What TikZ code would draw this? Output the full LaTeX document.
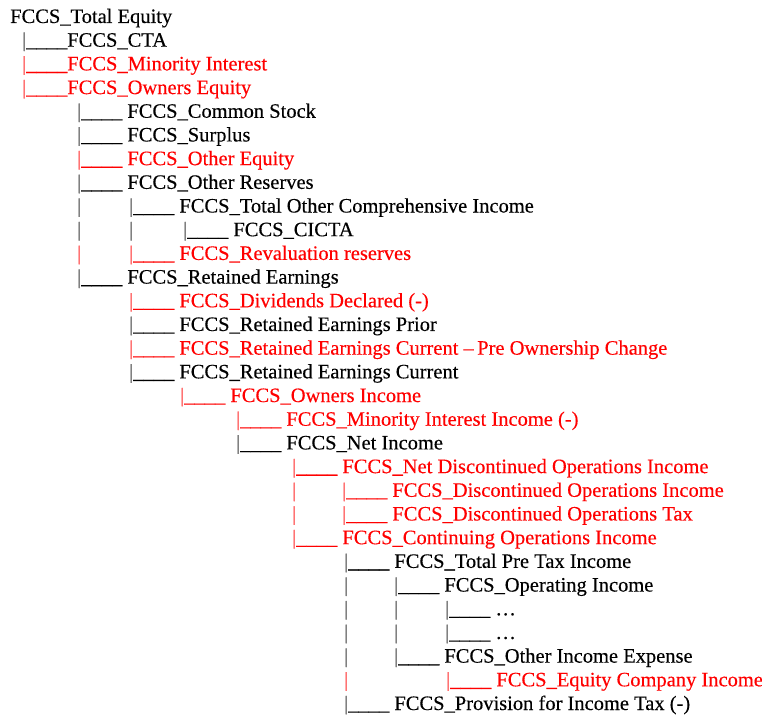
\documentclass[tikz,border=0pt]{standalone}
\usepackage{fontspec}
\setmainfont{Liberation Serif}
\newfontfamily\tnr[FakeBold=0.3]{Liberation Serif}
\definecolor{fred}{RGB}{255,0,0}
\colorlet{barblack}{black!50}
\colorlet{barred}{fred!55}
\newcommand\ub{\_\_\_\_}
\tikzset{
  lbl/.style={anchor=base west, inner sep=0pt, font=\tnr\fontsize{20.5}{24}\selectfont},
  blk/.style={lbl, text=black},
  rd/.style={lbl, text=fred},
}
\newcommand\bb{\textcolor{barblack}{|}}
\newcommand\br{\textcolor{barred}{|}}
\begin{document}
\begin{tikzpicture}[x=1pt,y=-1pt]
\useasboundingbox (0,0) rectangle (762,717);
\def\ly#1{\fpeval{23+23.69*(#1-1)}}
% row 1
\node[blk] (r1) at (10,{\ly{1}}) {FCCS\_Total Equity};
% level 1
\node[blk] (r2) at (22,{\ly{2}}) {\bb\ub FCCS\_CTA};
\node[rd]  (r3) at (22,{\ly{3}}) {\br\ub FCCS\_Minority Interest};
\node[rd]  (r4) at (22,{\ly{4}}) {\br\ub FCCS\_Owners Equity};
% level 2
\node[blk] (r5) at (77,{\ly{5}}) {\bb\ub\ FCCS\_Common Stock};
\node[blk] (r6) at (77,{\ly{6}}) {\bb\ub\ FCCS\_Surplus};
\node[rd]  (r7) at (77,{\ly{7}}) {\br\ub\ FCCS\_Other Equity};
\node[blk] (r8) at (77,{\ly{8}}) {\bb\ub\ FCCS\_Other Reserves};
\node[blk] (c9a) at (77,{\ly{9}}) {\bb};
\node[blk] (r9) at (129,{\ly{9}}) {\bb\ub\ FCCS\_Total Other Comprehensive Income};
\node[blk] (c10a) at (77,{\ly{10}}) {\bb};
\node[blk] (c10b) at (129,{\ly{10}}) {\bb};
\node[blk] (r10) at (183,{\ly{10}}) {\bb\ub\ FCCS\_CICTA};
\node[rd] (c11a) at (77,{\ly{11}}) {\br};
\node[rd]  (r11) at (129,{\ly{11}}) {\br\ub\ FCCS\_Revaluation reserves};
\node[blk] (r12) at (77,{\ly{12}}) {\bb\ub\ FCCS\_Retained Earnings};
% level 3
\node[rd]  (r13) at (129,{\ly{13}}) {\br\ub\ FCCS\_Dividends Declared (-)};
\node[blk] (r14) at (129,{\ly{14}}) {\bb\ub\ FCCS\_Retained Earnings Prior};
\node[rd]  (r15) at (129,{\ly{15}}) {\br\ub\ FCCS\_Retained Earnings Current –\,Pre Ownership Change};
\node[blk] (r16) at (129,{\ly{16}}) {\bb\ub\ FCCS\_Retained Earnings Current};
% deeper
\node[rd]  (r17) at (180,{\ly{17}}) {\br\ub\ FCCS\_Owners Income};
\node[rd]  (r18) at (236,{\ly{18}}) {\br\ub\ FCCS\_Minority Interest Income (-)};
\node[blk] (r19) at (236,{\ly{19}}) {\bb\ub\ FCCS\_Net Income};
\node[rd]  (r20) at (292,{\ly{20}}) {\br\ub\ FCCS\_Net Discontinued Operations Income};
\node[rd] (c21a) at (292,{\ly{21}}) {\br};
\node[rd]  (r21) at (342,{\ly{21}}) {\br\ub\ FCCS\_Discontinued Operations Income};
\node[rd] (c22a) at (292,{\ly{22}}) {\br};
\node[rd]  (r22) at (342,{\ly{22}}) {\br\ub\ FCCS\_Discontinued Operations Tax};
\node[rd]  (r23) at (292,{\ly{23}}) {\br\ub\ FCCS\_Continuing Operations Income};
\node[blk] (r24) at (344,{\ly{24}}) {\bb\ub\ FCCS\_Total Pre Tax Income};
\node[blk] (c25a) at (344,{\ly{25}}) {\bb};
\node[blk] (r25) at (394,{\ly{25}}) {\bb\ub\ FCCS\_Operating Income};
\node[blk] (c26a) at (344,{\ly{26}}) {\bb};
\node[blk] (c26b) at (394,{\ly{26}}) {\bb};
\node[blk] (r26) at (445,{\ly{26}}) {\bb\ub\ \ldots};
\node[blk] (c27a) at (344,{\ly{27}}) {\bb};
\node[blk] (c27b) at (394,{\ly{27}}) {\bb};
\node[blk] (r27) at (445,{\ly{27}}) {\bb\ub\ \ldots};
\node[blk] (c28a) at (344,{\ly{28}}) {\bb};
\node[blk] (r28) at (394,{\ly{28}}) {\bb\ub\ FCCS\_Other Income Expense};
\node[rd] (c29a) at (344,{\ly{29}}) {\br};
\node[rd]  (r29) at (446,{\ly{29}}) {\br\ub\ FCCS\_Equity Company Income};
\node[blk] (r30) at (344,{\ly{30}}) {\bb\ub\ FCCS\_Provision for Income Tax (-)};
\end{tikzpicture}
\end{document}
